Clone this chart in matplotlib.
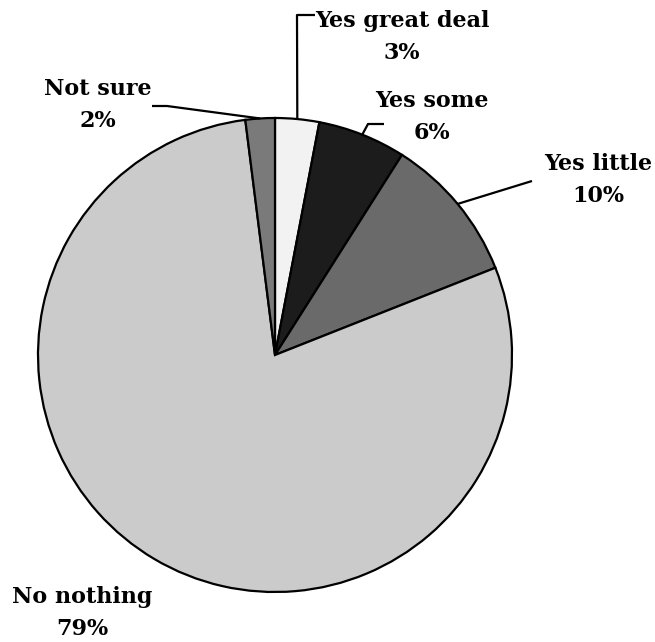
import numpy as np
import matplotlib.pyplot as plt

# Datos
categorias = ["Yes great deal", "Yes some", "Yes little", "No nothing", "Not sure"]
porcentajes = [3, 6, 10, 79, 2]
colores = ["#f2f2f2", "#1c1c1c", "#6a6a6a", "#cbcbcb", "#7a7a7a"]

W, H = 655, 642
fig = plt.figure(figsize=(W / 100, H / 100), dpi=100)
ax = fig.add_axes([0, 0, 1, 1])

cx, cy, r = 275, H - 355, 237
ax.pie(porcentajes, colors=colores, startangle=90, counterclock=False,
       center=(cx, cy), radius=r, frame=True,
       wedgeprops=dict(edgecolor="black", linewidth=1.6))
ax.set_xlim(0, W)
ax.set_ylim(0, H)
ax.set_aspect("equal")
ax.axis("off")

# Punto del borde de cada porción
total = sum(porcentajes)
acum = np.cumsum([0] + porcentajes)
anclas = []
for i in range(len(porcentajes)):
    mid = (acum[i] + acum[i + 1]) / 2 / total
    ang = np.deg2rad(90 - 360 * mid)
    anclas.append((cx + r * np.cos(ang), cy + r * np.sin(ang)))

# Líneas guía (en píxeles, y desde arriba)
guias = {
    0: [(297, 15), (315, 15)],
    1: [(368, 124), (384, 124)],
    2: [(532, 181)],
    4: [(167, 106), (152, 106)],
}
for i, pts in guias.items():
    xs = [anclas[i][0]] + [p[0] for p in pts]
    ys = [anclas[i][1]] + [H - p[1] for p in pts]
    ax.plot(xs, ys, color="black", lw=1.6, solid_capstyle="butt")

# Etiquetas
pos_txt = [(402, 37), (432, 117), (598, 180), (82, 613), (98, 105)]
for cat, p, (x, y) in zip(categorias, porcentajes, pos_txt):
    ax.text(x, H - y, f"{cat}\n{p}%", ha="center", va="center",
            fontsize=16, fontweight="bold", family="DejaVu Serif",
            linespacing=1.6)

fig.savefig("out.png", dpi=100)
